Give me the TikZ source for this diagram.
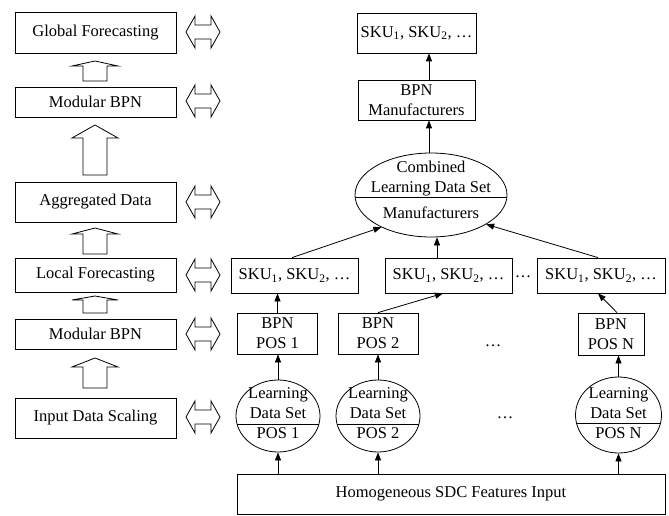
\documentclass[tikz,border=0pt]{standalone}
\usepackage{fontspec}
\setmainfont{Liberation Serif}
\usetikzlibrary{arrows.meta,shapes.geometric,calc}
\tikzset{
  base/.style={draw, line width=0.8pt, inner sep=0pt, align=center, font=\fontsize{16.5}{20}\selectfont},
  box/.style={base, rectangle},
  oval/.style={base, ellipse},
  txt/.style={inner sep=0pt, align=center, font=\fontsize{16.5}{20}\selectfont},
  arr/.style={line width=0.8pt, -{Triangle[length=8pt,width=6pt]}},
  blk/.style={line width=0.8pt, line join=miter}
}
\newcommand\myuparrow[3]{\draw[blk] (72,#2) -- (95,#1) -- (118,#2) -- (107,#2) -- (107,#3) -- (83,#3) -- (83,#2) -- cycle;}
\newcommand\mydblarrow[1]{\draw[blk] (186,#1) -- (195,{#1-16}) -- (195,{#1-7}) -- (211,{#1-7}) -- (211,{#1-16}) -- (220,#1) -- (211,{#1+16}) -- (211,{#1+7}) -- (195,{#1+7}) -- (195,{#1+16}) -- cycle;}
\begin{document}
\begin{tikzpicture}[x=1pt,y=-1pt]
\useasboundingbox (0,0) rectangle (669,516);
% left column
\node[box, minimum width=161pt, minimum height=41pt] (glob) at (95.5,32.5) {Global Forecasting};
\node[box, minimum width=161pt, minimum height=30pt] (mod1) at (95.5,102) {Modular BPN};
\node[box, minimum width=161pt, minimum height=40pt] (agg) at (95.5,202) {Aggregated Data};
\node[box, minimum width=161pt, minimum height=34pt] (loc) at (95.5,275) {Local Forecasting};
\node[box, minimum width=161pt, minimum height=30pt] (mod2) at (95.5,334) {Modular BPN};
\node[box, minimum width=161pt, minimum height=40pt] (inp) at (95.5,418) {Input Data Scaling};
\myuparrow{61}{66}{81}
\myuparrow{125}{138}{175}
\myuparrow{228}{234}{254}
\myuparrow{296}{300}{313}
\myuparrow{358}{367}{388}
\mydblarrow{32}
\mydblarrow{101}
\mydblarrow{202}
\mydblarrow{275}
\mydblarrow{334}
\mydblarrow{417}
% right part
\node[box, minimum width=119pt, minimum height=40pt] (skuT) at (416.5,33) {SKU\textsubscript{1}, SKU\textsubscript{2}, \ldots};
\node[box, minimum width=117pt, minimum height=40pt] (bpnM) at (416.5,100) {BPN\\Manufacturers};
\node[oval, minimum width=152pt, minimum height=84pt,
  path picture={\draw[line width=0.8pt] ([yshift=-2pt]path picture bounding box.west) -- ([yshift=-2pt]path picture bounding box.east);}] (ell) at (431,195) {};
\node[txt] (elltxt) at (431,190) {Combined\\Learning Data Set\\[6pt]Manufacturers};
\node[box, minimum width=127pt, minimum height=35pt] (sku1) at (294.5,275.5) {SKU\textsubscript{1}, SKU\textsubscript{2}, \ldots};
\node[box, minimum width=127pt, minimum height=35pt] (sku2) at (448.5,275.5) {SKU\textsubscript{1}, SKU\textsubscript{2}, \ldots};
\node[box, minimum width=128pt, minimum height=35pt] (sku3) at (601,275.5) {SKU\textsubscript{1}, SKU\textsubscript{2}, \ldots};
\node[txt] (dots1) at (523,277) {\ldots};
\node[box, minimum width=80pt, minimum height=41pt] (bpn1) at (277.5,333.5) {BPN\\POS 1};
\node[box, minimum width=80pt, minimum height=41pt] (bpn2) at (378,333.5) {BPN\\POS 2};
\node[box, minimum width=66pt, minimum height=42pt] (bpnN) at (611,334) {BPN\\POS N};
\node[txt] (dots2) at (493,346) {\ldots};
\node[oval, minimum width=84pt, minimum height=72pt,
  path picture={\draw[line width=0.8pt] ([yshift=-8pt]path picture bounding box.west) -- ([yshift=-8pt]path picture bounding box.east);}] (c1) at (278,416) {};
\node[txt] (c1t) at (278,413.5) {Learning\\Data Set\\POS 1};
\node[oval, minimum width=84pt, minimum height=72pt,
  path picture={\draw[line width=0.8pt] ([yshift=-8pt]path picture bounding box.west) -- ([yshift=-8pt]path picture bounding box.east);}] (c2) at (378,416) {};
\node[txt] (c2t) at (378,413.5) {Learning\\Data Set\\POS 2};
\node[oval, minimum width=86pt, minimum height=76pt,
  path picture={\draw[line width=0.8pt] ([yshift=-8pt]path picture bounding box.west) -- ([yshift=-8pt]path picture bounding box.east);}] (cN) at (618.5,415) {};
\node[txt] (cNt) at (618.5,413) {Learning\\Data Set\\POS N};
\node[txt] (dots3) at (505,418) {\ldots};
\node[box, minimum width=428pt, minimum height=40pt] (bas) at (451,494) {Homogeneous SDC Features Input};
% connectors
\draw[arr] ([xshift=12.5pt]bpnM.north) -- ([xshift=12.5pt]skuT.south);
\draw[arr] ([xshift=-2pt]ell.north) -- ([xshift=12.5pt]bpnM.south);
\draw[arr] ([xshift=-2.5pt]sku1.north) -- (ell.213);
\draw[arr] ([xshift=-11.5pt]sku2.north) -- ([xshift=6pt]ell.south);
\draw[arr] ([xshift=-3pt]sku3.north) -- (ell.332);
\draw[arr] (bpn1.north) -- (bpn1.north |- sku1.south);
\draw[arr] (bpn2.north) -- ([xshift=-5.5pt]sku2.south);
\draw[arr] ([xshift=6pt]bpnN.north) -- ([xshift=-3pt]sku3.south);
\draw[arr] (c1.north) -- (c1.north |- bpn1.south);
\draw[arr] (c2.north) -- (c2.north |- bpn2.south);
\draw[arr] (cN.north) -- (cN.north |- bpnN.south);
\draw[arr] (c1.south |- bas.north) -- (c1.south);
\draw[arr] (c2.south |- bas.north) -- (c2.south);
\draw[arr] (cN.south |- bas.north) -- (cN.south);
\end{tikzpicture}
\end{document}
